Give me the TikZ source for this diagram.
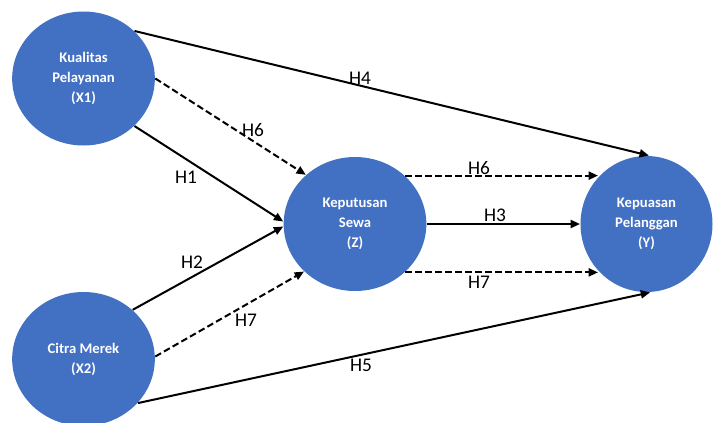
\documentclass[tikz,border=0pt]{standalone}
\usepackage{fontspec}
\setmainfont{Carlito}
\usetikzlibrary{shapes.geometric,arrows.meta}
\definecolor{varblue}{RGB}{66,112,194}

\tikzset{every picture/.style={line width=0.75pt}}
\tikzset{
  varnode/.style={ellipse, fill=varblue, draw=none, minimum width=107pt, minimum height=100.5pt, inner sep=0pt, text=white, align=center, font=\bfseries\fontsize{11}{15}\selectfont},
  hyp/.style={line width=1.5pt, -{Triangle[length=7pt,width=6pt]}},
  hypdash/.style={hyp, dash pattern={on 5pt off 2.5pt}},
  hlabel/.style={inner sep=0.75pt, font=\fontsize{14.5}{16}\selectfont}
}

\begin{document}
\begin{tikzpicture}[x=0.75pt,y=0.75pt,yscale=-1,xscale=1]
\useasboundingbox (0,0) rectangle (713,422);

%Shape: Ellipse [Kualitas Pelayanan]
\node[varnode] (x1) at (83.5,78.5) {Kualitas\\Pelayanan\\(X1)};
%Shape: Ellipse [Citra Merek]
\node[varnode] (x2) at (83.5,359) {Citra Merek\\(X2)};
%Shape: Ellipse [Keputusan Sewa]
\node[varnode] (z) at (355,224) {Keputusan\\Sewa\\(Z)};
%Shape: Ellipse [Kepuasan Pelanggan]
\node[varnode, minimum width=99pt, minimum height=102pt] (y) at (646.5,224) {Kepuasan\\Pelanggan\\(Y)};

%Straight Lines [H4]
\draw [hyp] (x1.43) -- (y.88) ;
%Straight Lines [H6, X1 to Z]
\draw [hypdash] (x1.0) -- (z.135) ;
%Straight Lines [H1]
\draw [hyp] (x1.-43) -- (z.178) ;
%Straight Lines [H2]
\draw [hyp] (x2.45) -- (z.182) ;
%Straight Lines [H7, X2 to Z]
\draw [hypdash] (x2.2) -- (z.223) ;
%Straight Lines [H5]
\draw [hyp] (x2.-39) -- (y.-87) ;
%Straight Lines [H6, Z to Y]
\draw [hypdash] (z.44) -- (z.44 -| y.136) ;
%Straight Lines [H3]
\draw [hyp] (z.0) -- (y.180) ;
%Straight Lines [H7, Z to Y]
\draw [hypdash] (z.-44) -- (z.-44 -| y.-136) ;

% Text Node
\node [hlabel] (lhfour) at (360,78) {H4};
% Text Node
\node [hlabel] (lhsixa) at (253,130) {H6};
% Text Node
\node [hlabel] (lhone) at (186,177) {H1};
% Text Node
\node [hlabel] (lhtwo) at (192,262) {H2};
% Text Node
\node [hlabel] (lhsevena) at (246,320) {H7};
% Text Node
\node [hlabel] (lhfive) at (361,365) {H5};
% Text Node
\node [hlabel] (lhsixb) at (479,168) {H6};
% Text Node
\node [hlabel] (lhthree) at (495,215) {H3};
% Text Node
\node [hlabel] (lhsevenb) at (479,282) {H7};

\end{tikzpicture}
\end{document}
